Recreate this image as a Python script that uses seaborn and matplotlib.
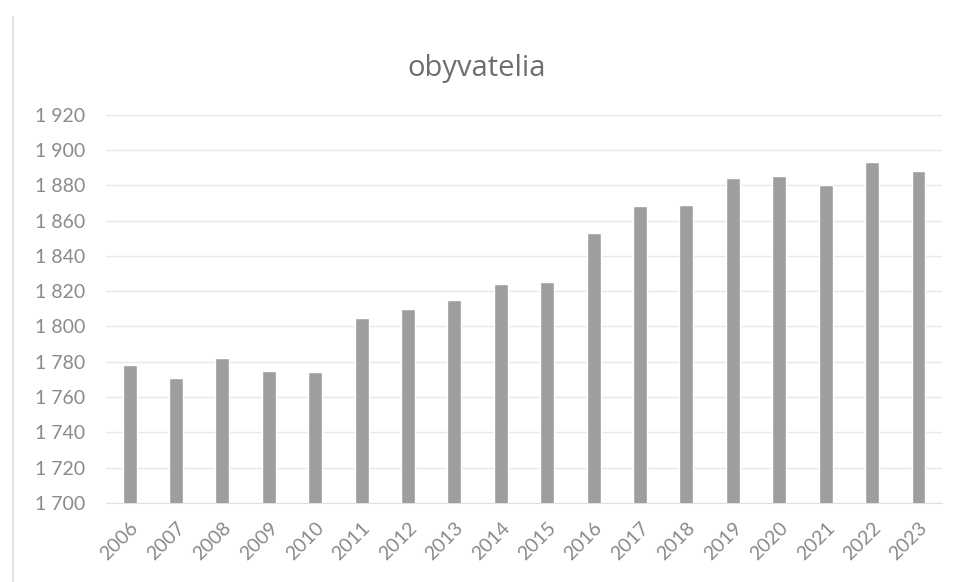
import numpy as np
import pandas as pd
import matplotlib
matplotlib.use("Agg")
import matplotlib.pyplot as plt
import seaborn as sns

years = [str(y) for y in range(2006, 2024)]
obyvatelia = [1778, 1771, 1782, 1775, 1774, 1805, 1810, 1815, 1824, 1825,
              1853, 1868, 1869, 1884, 1885, 1880, 1893, 1888]
y_ticks = list(range(1700, 1921, 20))
y_labels = [f"{v:,}".replace(",", " ") for v in y_ticks]

df = pd.DataFrame({"rok": years, "obyvatelia": obyvatelia})

sns.set_style("white")
plt.rcParams["font.family"] = ["Lato", "DejaVu Sans"]

fig = plt.figure(figsize=(9.58, 5.82), dpi=100)
ax = fig.add_axes([0.111, 0.136, 0.872, 0.667])

sns.barplot(data=df, x="rok", y="obyvatelia", color="#9e9e9e",
            width=0.3, saturation=1, ax=ax, zorder=3)

ax.set_ylim(1700, 1920)
ax.set_yticks(y_ticks)
ax.set_yticklabels(y_labels)
ax.yaxis.grid(True, color="#e8e8e8", linewidth=1, zorder=0)
ax.set_axisbelow(True)
for s in ax.spines.values():
    s.set_visible(False)
ax.spines["bottom"].set_visible(True)
ax.spines["bottom"].set_color("#e0e0e0")

ax.tick_params(axis="y", length=0, labelsize=14, labelcolor="#8a8a8a", pad=15)
ax.tick_params(axis="x", length=0, labelsize=14, labelcolor="#8a8a8a", pad=12)
plt.setp(ax.get_xticklabels(), rotation=45, ha="right", rotation_mode="anchor")
ax.set_xlabel("")
ax.set_ylabel("")

fig.text(0.498, 0.883, "obyvatelia", ha="center", va="center",
         fontsize=21, color="#6e6e6e", family=["Open Sans", "DejaVu Sans"])

fig.add_artist(plt.Line2D([0.014, 0.014], [0.0, 0.97], color="#dddddd",
                          linewidth=1.2, transform=fig.transFigure))

fig.savefig("out.png", dpi=100)
